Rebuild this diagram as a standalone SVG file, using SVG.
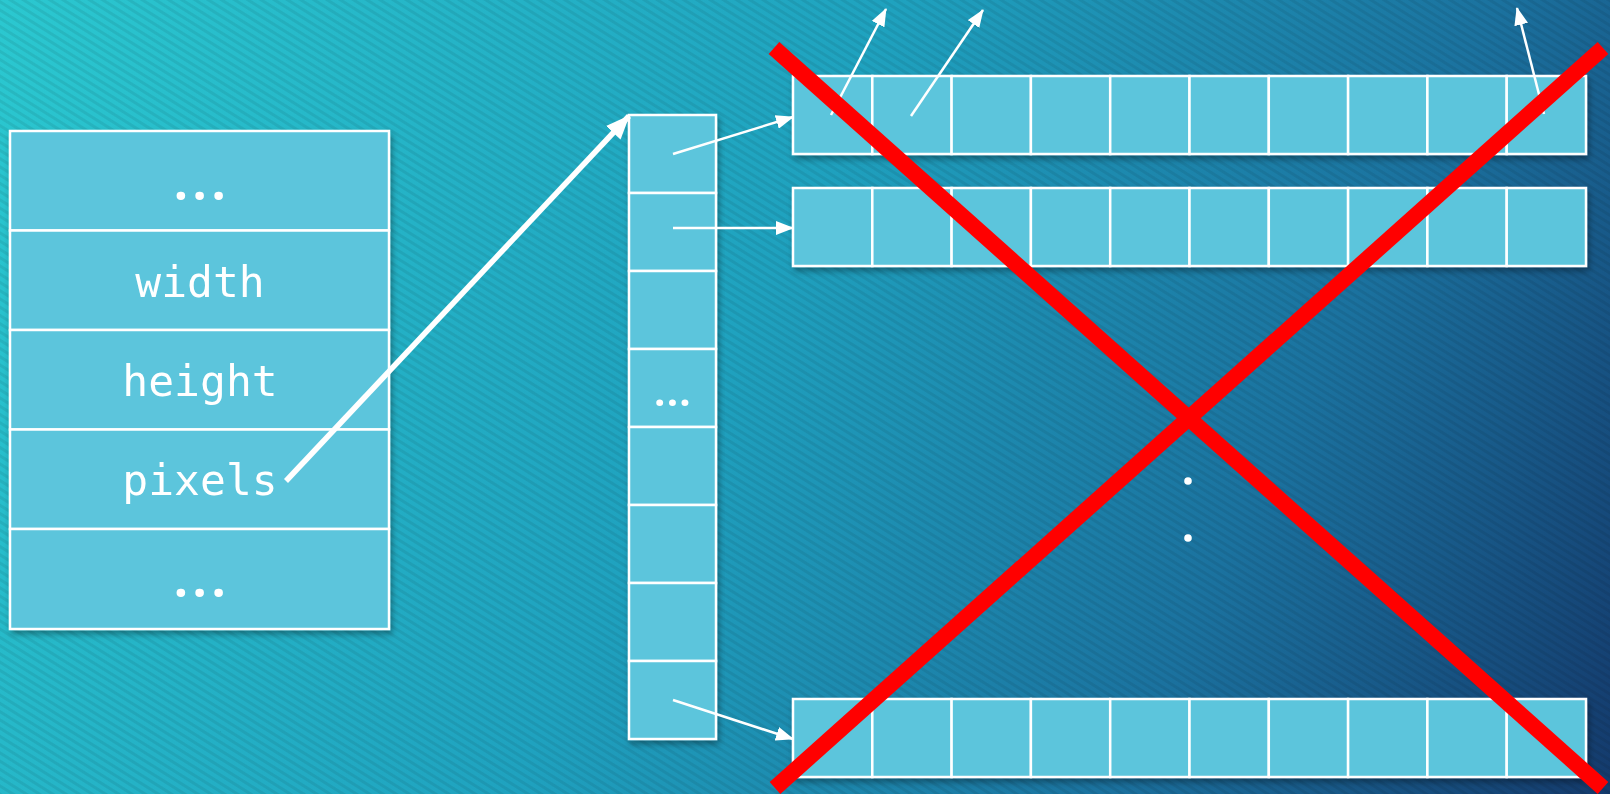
<svg xmlns="http://www.w3.org/2000/svg" width="1610" height="794" viewBox="0 0 1610 794">
  <defs>
    <linearGradient id="bg" gradientUnits="userSpaceOnUse" x1="0" y1="0" x2="1610" y2="794">
      <stop offset="0" stop-color="#2bc8d0"/>
      <stop offset="0.45" stop-color="#1fa2bf"/>
      <stop offset="0.75" stop-color="#1b729f"/>
      <stop offset="1" stop-color="#143a6c"/>
    </linearGradient>
    <pattern id="stripes" width="7" height="7" patternUnits="userSpaceOnUse" patternTransform="rotate(32)">
      <rect x="0" y="0" width="7" height="3" fill="#000" fill-opacity="0.07"/>
    </pattern>
    <filter id="shadow" x="-10%" y="-10%" width="120%" height="130%">
      <feDropShadow dx="2" dy="4" stdDeviation="3" flood-color="#000" flood-opacity="0.35"/>
    </filter>
    <marker id="ah" markerUnits="userSpaceOnUse" markerWidth="18" markerHeight="14" refX="17" refY="7" orient="auto">
      <path d="M0,0 L18,7 L0,14 z" fill="#fff"/>
    </marker>
    <marker id="ahBig" markerUnits="userSpaceOnUse" markerWidth="24" markerHeight="20" refX="23" refY="10" orient="auto">
      <path d="M0,0 L24,10 L0,20 z" fill="#fff"/>
    </marker>
    <style>
      .cell { fill: #5bc5dc; stroke: #fff; stroke-width: 2.5; }
      .lbl { font-family: "DejaVu Sans Mono", "Liberation Mono", monospace; font-size: 43px; fill: #fff; text-anchor: middle; }
      .ell { font-family: "Open Sans", "Liberation Sans", sans-serif; font-weight: bold; fill: #fff; text-anchor: middle; }
      .thin { stroke: #fff; stroke-width: 2.5; fill: none; marker-end: url(#ah); }
      .thick { stroke: #fff; stroke-width: 5.5; fill: none; marker-end: url(#ahBig); }
      .red { stroke: #ff0000; stroke-width: 16; fill: none; }
    </style>
  </defs>

  <rect x="0" y="0" width="1610" height="794" fill="url(#bg)"/>
  <rect x="0" y="0" width="1610" height="794" fill="url(#stripes)"/>

  <g id="struct" filter="url(#shadow)">
    <rect class="cell" x="10" y="131" width="379" height="99.5"/>
    <rect class="cell" x="10" y="230.5" width="379" height="99.5"/>
    <rect class="cell" x="10" y="330" width="379" height="99.5"/>
    <rect class="cell" x="10" y="429.5" width="379" height="99.5"/>
    <rect class="cell" x="10" y="529" width="379" height="100"/>
    <text class="ell" x="202" y="200" font-size="50" letter-spacing="4.5">...</text>
    <text class="lbl" x="200" y="297">width</text>
    <text class="lbl" x="200" y="396">height</text>
    <text class="lbl" x="200" y="495">pixels</text>
    <text class="ell" x="202" y="597" font-size="50" letter-spacing="4.5">...</text>
  </g>

  <g id="pointers" filter="url(#shadow)">
    <rect class="cell" x="629" y="115" width="87" height="78"/>
    <rect class="cell" x="629" y="193" width="87" height="78"/>
    <rect class="cell" x="629" y="271" width="87" height="78"/>
    <rect class="cell" x="629" y="349" width="87" height="78"/>
    <rect class="cell" x="629" y="427" width="87" height="78"/>
    <rect class="cell" x="629" y="505" width="87" height="78"/>
    <rect class="cell" x="629" y="583" width="87" height="78"/>
    <rect class="cell" x="629" y="661" width="87" height="78"/>
    <text class="ell" x="673" y="406" font-size="40" letter-spacing="1.2">...</text>
  </g>

  <g id="row-0" filter="url(#shadow)">
    <rect class="cell" x="793" y="76" width="79.3" height="78"/>
    <rect class="cell" x="872.3" y="76" width="79.3" height="78"/>
    <rect class="cell" x="951.6" y="76" width="79.3" height="78"/>
    <rect class="cell" x="1030.9" y="76" width="79.3" height="78"/>
    <rect class="cell" x="1110.2" y="76" width="79.3" height="78"/>
    <rect class="cell" x="1189.5" y="76" width="79.3" height="78"/>
    <rect class="cell" x="1268.8" y="76" width="79.3" height="78"/>
    <rect class="cell" x="1348.1" y="76" width="79.3" height="78"/>
    <rect class="cell" x="1427.4" y="76" width="79.3" height="78"/>
    <rect class="cell" x="1506.7" y="76" width="79.3" height="78"/>
  </g>

  <g id="row-1" filter="url(#shadow)">
    <rect class="cell" x="793" y="188" width="79.3" height="78"/>
    <rect class="cell" x="872.3" y="188" width="79.3" height="78"/>
    <rect class="cell" x="951.6" y="188" width="79.3" height="78"/>
    <rect class="cell" x="1030.9" y="188" width="79.3" height="78"/>
    <rect class="cell" x="1110.2" y="188" width="79.3" height="78"/>
    <rect class="cell" x="1189.5" y="188" width="79.3" height="78"/>
    <rect class="cell" x="1268.8" y="188" width="79.3" height="78"/>
    <rect class="cell" x="1348.1" y="188" width="79.3" height="78"/>
    <rect class="cell" x="1427.4" y="188" width="79.3" height="78"/>
    <rect class="cell" x="1506.7" y="188" width="79.3" height="78"/>
  </g>

  <g id="row-n" filter="url(#shadow)">
    <rect class="cell" x="793" y="699" width="79.3" height="78"/>
    <rect class="cell" x="872.3" y="699" width="79.3" height="78"/>
    <rect class="cell" x="951.6" y="699" width="79.3" height="78"/>
    <rect class="cell" x="1030.9" y="699" width="79.3" height="78"/>
    <rect class="cell" x="1110.2" y="699" width="79.3" height="78"/>
    <rect class="cell" x="1189.5" y="699" width="79.3" height="78"/>
    <rect class="cell" x="1268.8" y="699" width="79.3" height="78"/>
    <rect class="cell" x="1348.1" y="699" width="79.3" height="78"/>
    <rect class="cell" x="1427.4" y="699" width="79.3" height="78"/>
    <rect class="cell" x="1506.7" y="699" width="79.3" height="78"/>
  </g>

  <g id="vdots" fill="#fff">
    <circle cx="1188" cy="481" r="3.8"/>
    <circle cx="1188" cy="538" r="3.8"/>
  </g>

  <g id="connectors">
    <line class="thick" x1="286" y1="481" x2="629" y2="116"/>
    <line class="thin" x1="673" y1="154" x2="793" y2="117"/>
    <line class="thin" x1="673" y1="228" x2="793" y2="228"/>
    <line class="thin" x1="673" y1="700" x2="793" y2="739"/>
    <line class="thin" x1="831" y1="115" x2="886" y2="9"/>
    <line class="thin" x1="911" y1="116" x2="983" y2="10"/>
    <line class="thin" x1="1544" y1="114" x2="1517" y2="8"/>
  </g>

  <g id="cross">
    <line class="red" x1="774" y1="48" x2="1603" y2="788"/>
    <line class="red" x1="1603" y1="48" x2="775" y2="788"/>
  </g>
</svg>
